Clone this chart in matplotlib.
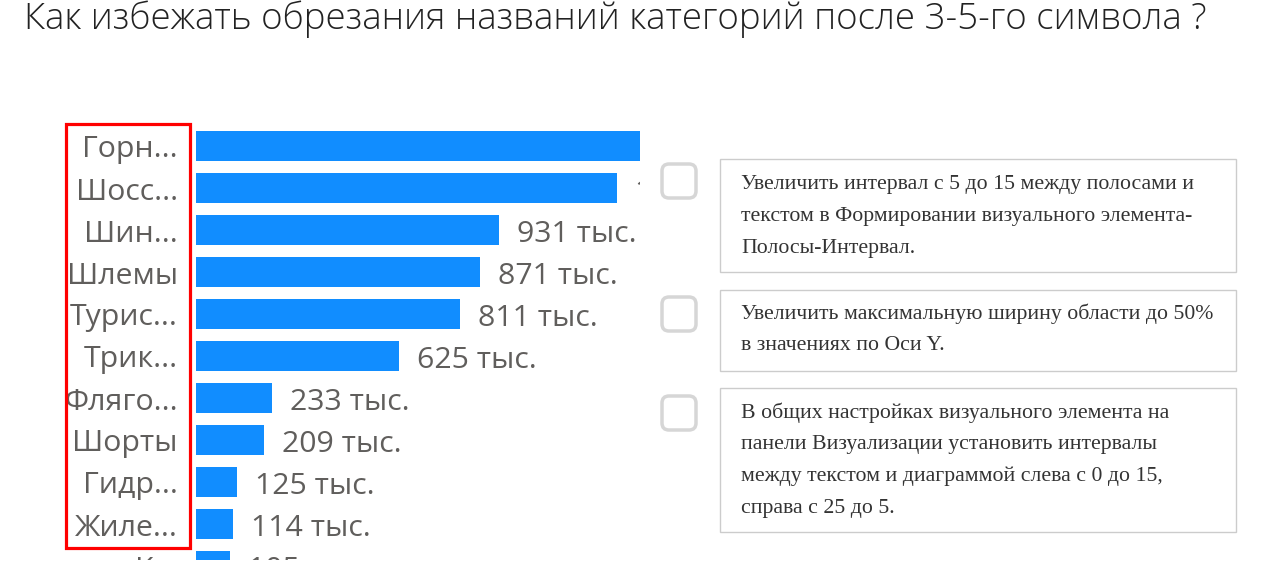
import matplotlib
matplotlib.use("Agg")
import matplotlib.pyplot as plt
from matplotlib.patches import Rectangle, FancyBboxPatch

# ---- data ----
categories = ["Горн...", "Шосс...", "Шин...", "Шлемы", "Турис...", "Трик...",
              "Фляго...", "Шорты", "Гидр...", "Жиле...", "К..."]
values = [1420, 1293, 931, 871, 811, 625, 233, 209, 125, 114, 105]  # тыс.
title = "Как избежать обрезания названий категорий после 3-5-го символа ?"
options = [
    ["Увеличить интервал с 5 до 15 между полосами и",
     "текстом в Формировании визуального элемента-",
     "Полосы-Интервал."],
    ["Увеличить максимальную ширину области до 50%",
     "в значениях по Оси Y."],
    ["В общих настройках визуального элемента на",
     "панели Визуализации установить интервалы",
     "между текстом и диаграммой слева с 0 до 15,",
     "справа с 25 до 5."],
]

W, H = 1269, 580
fig = plt.figure(figsize=(W / 100, H / 100), dpi=100)
fig.patch.set_facecolor("white")

def fx(px):
    return px / W

def fy(py):
    return 1 - py / H

# ---- bar chart axes (pixel region x 60..640, y 125..560) ----
ax_l, ax_r, ax_t, ax_b = 60, 640, 125, 560
ax = fig.add_axes([fx(ax_l), fy(ax_b), (ax_r - ax_l) / W, (ax_b - ax_t) / H])
scale = 0.3256  # px per thousand
zero_px = 196
ax.set_xlim(-(zero_px - ax_l) / scale, (ax_r - zero_px) / scale)
row_px, first_px = 42.0, 146.0
ax.set_ylim((ax_b - first_px) / row_px, (ax_t - first_px) / row_px)
ax.axis("off")

ypos = list(range(len(categories)))
ax.barh(ypos, values, height=0.72, color="#118DFF", zorder=2)

label_color = "#605E5C"
fs = 21.8
dy = 4 / row_px
for y, v, c in zip(ypos, values, categories):
    if v >= 1000:
        txt = f"{v/1000:.2f}".replace(".", ",") + " млн."
    else:
        txt = f"{v} тыс."
    ax.text(v + 18 / scale, y + dy, txt, ha="left", va="center", fontsize=fs,
            family="Open Sans", color=label_color, clip_on=True)
    ax.text(-(zero_px - 178) / scale, y + dy, c, ha="right", va="center",
            fontsize=fs, family="Open Sans", color=label_color, clip_on=True)

# ---- overlay axes for decorations ----
ov = fig.add_axes([0, 0, 1, 1], zorder=5)
ov.set_xlim(0, W)
ov.set_ylim(H, 0)
ov.axis("off")
ov.patch.set_alpha(0)

ov.add_patch(Rectangle((66, 124), 124, 424, fill=False, edgecolor="#FF0000",
                       linewidth=2.3))

ov.text(24, 19, title, ha="left", va="center", fontsize=26.4,
        family="Open Sans", fontweight="light", color="#222222")

boxes = [(159, 272), (290, 371), (388, 532)]
checks = [162, 295, 394]
line0 = [185, 314, 413]
for (top, bot), cy, l0, lines in zip(boxes, checks, line0, options):
    ov.add_patch(Rectangle((720, top), 516, bot - top, fill=False,
                           edgecolor="#CCCCCC", linewidth=1.0))
    ov.add_patch(FancyBboxPatch((662, cy + 2), 34, 34,
                                boxstyle="round,pad=0,rounding_size=7",
                                fill=False, edgecolor="#D6D6D6", linewidth=2.5))
    for i, ln in enumerate(lines):
        ov.text(741, l0 + i * 31.7, ln, ha="left", va="center", fontsize=15.7,
                family="Liberation Serif", color="#333333")

fig.savefig("out.png", dpi=100)
